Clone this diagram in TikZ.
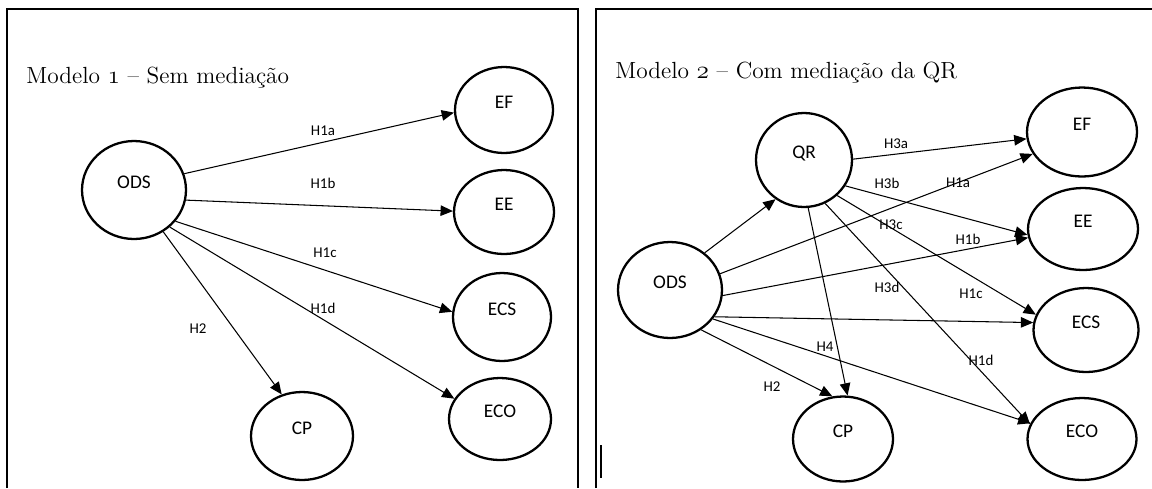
\documentclass[tikz,border=0pt]{standalone}
\usepackage{fontspec}
\newfontfamily\calib{Carlito}
\usetikzlibrary{shapes,arrows.meta,positioning}

\begin{document}
\begin{tikzpicture}[
        x=0.02cm, y=-0.02cm,
        var/.style={ellipse, draw, line width=1.3pt, inner sep=0pt,
            font=\calib\fontsize{11}{13}\selectfont, text depth=9pt},
        hyp/.style={font=\calib\fontsize{8.5}{10}\selectfont, inner sep=0pt},
        seta/.style={-{Triangle[length=7pt,width=6pt]}, line width=0.6pt},
        moldura/.style={line width=1.4pt},
        titulo/.style={anchor=base west, inner sep=0pt, font=\fontsize{13.3}{15}\selectfont}
    ]
    \useasboundingbox (0,0) rectangle (1152,488);

    % molduras
    \draw[moldura] (7,488) -- (7,9) -- (578,9) -- (578,488);
    \draw[moldura] (596,488) -- (596,9) -- (1152,9);
    \draw[line width=0.8pt] (601,445) -- (601,478);

    % Modelo 1
    \node[titulo] (tit1) at (26,83) {Modelo $\mathnormal{1}$ -- Sem mediação};

    \node[var, minimum width=2.08cm, minimum height=1.96cm] (ODSa) at (134,190) {ODS};
    \node[var, minimum width=1.96cm, minimum height=1.72cm] (EFa) at (504,110) {EF};
    \node[var, minimum width=2.00cm, minimum height=1.68cm] (EEa) at (504,212) {EE};
    \node[var, minimum width=1.96cm, minimum height=1.76cm] (ECSa) at (502,317) {ECS};
    \node[var, minimum width=2.04cm, minimum height=1.64cm] (ECOa) at (500,419) {ECO};
    \node[var, minimum width=2.04cm, minimum height=1.76cm] (CPa) at (302,436) {CP};

    \draw[seta] (ODSa.18) -- (EFa.183);
    \draw[seta] (ODSa.-11) -- (EEa.179);
    \draw[seta] (ODSa.-37) -- (ECSa.174);
    \draw[seta] (ODSa.-46) -- (ECOa.156);
    \draw[seta] (ODSa.-55) -- (CPa.116);

    \node[hyp] (h1a) at (323,131) {H1a};
    \node[hyp] (h1b) at (323,183) {H1b};
    \node[hyp] (h1c) at (325,253) {H1c};
    \node[hyp] (h1d) at (323,308) {H1d};
    \node[hyp] (h2) at (198,329) {H2};

    % Modelo 2
    \node[titulo] (tit2) at (615,78) {Modelo $\mathnormal{2}$ -- Com mediação da QR};

    \node[var, minimum width=1.92cm, minimum height=1.88cm] (QRb) at (804,160) {QR};
    \node[var, minimum width=2.08cm, minimum height=1.92cm] (ODSb) at (670,290) {ODS};
    \node[var, minimum width=2.20cm, minimum height=1.78cm] (EFb) at (1082,132) {EF};
    \node[var, minimum width=2.20cm, minimum height=1.64cm] (EEb) at (1083,229) {EE};
    \node[var, minimum width=2.10cm, minimum height=1.68cm] (ECSb) at (1086,330) {ECS};
    \node[var, minimum width=2.18cm, minimum height=1.64cm] (ECOb) at (1082,439) {ECO};
    \node[var, minimum width=2.00cm, minimum height=1.70cm] (CPb) at (843,439) {CP};

    \draw[seta] (ODSb.47) -- (QRb.234);
    \draw[seta] (ODSb.18) -- (EFb.204);
    \draw[seta] (ODSb.-6) -- (EEb.189);
    \draw[seta] (ODSb.-31) -- (ECSb.172);
    \draw[seta] (ODSb.-34) -- (ECOb.163);
    \draw[seta] (ODSb.-52) -- (CPb.104);
    \draw[seta] (QRb.1) -- (EFb.187);
    \draw[seta] (QRb.-32) -- (EEb.186);
    \draw[seta] (QRb.-47) -- (ECSb.163);
    \draw[seta] (QRb.-64) -- (ECOb.164);
    \draw[seta] (QRb.-85) -- (CPb.84);

    \node[hyp] (h3a) at (896,144) {H3a};
    \node[hyp] (h3b) at (887,183) {H3b};
    \node[hyp] (h1a2) at (958,183) {H1a};
    \node[hyp] (h3c) at (891,225) {H3c};
    \node[hyp] (h1b2) at (968,239) {H1b};
    \node[hyp] (h3d) at (887,287) {H3d};
    \node[hyp] (h1c2) at (971,294) {H1c};
    \node[hyp] (h4) at (825,347) {H4};
    \node[hyp] (h1d2) at (981,360) {H1d};
    \node[hyp] (h22) at (772,387) {H2};
\end{tikzpicture}
\end{document}
